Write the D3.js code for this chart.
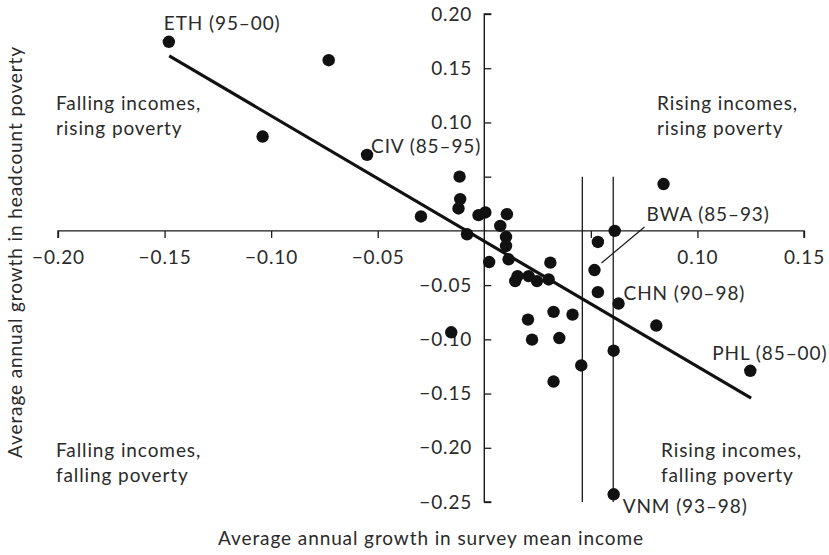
<!DOCTYPE html>
<html>
<head>
<meta charset="utf-8">
<script src="https://cdn.jsdelivr.net/npm/d3@7"></script>
<style>
  body { margin: 0; background: #fff; }
  svg text { font-family: Lato, "Open Sans", sans-serif; fill: #2a2a2a; letter-spacing: 0.9px; }
</style>
</head>
<body>
<svg id="chart" width="829" height="555"></svg>
<script>
// ---- data ----
const incomeGrowth = [-0.148, -0.073, -0.104, -0.055, -0.0116, -0.0113, -0.0121, -0.0297, -0.0081,
  -0.0027, 0.0005, 0.0106, 0.0075, 0.0102, 0.0102, 0.0023, 0.0114, 0.0156, 0.0145, 0.0208,
  0.0247, 0.0302, 0.031, 0.0325, 0.0414, 0.0205, 0.0224, 0.0352, 0.0455, 0.0325, -0.0155,
  0.0533, 0.0517, 0.0533, 0.0612, 0.063, 0.0607, 0.0841, 0.0807, 0.1248, 0.0607];
const povertyGrowth = [0.1744, 0.1574, 0.087, 0.0701, 0.050, 0.0293, 0.0207, 0.0133, -0.0031,
  0.0145, 0.017, 0.0154, 0.0046, -0.0056, -0.0139, -0.0287, -0.0262, -0.0417, -0.0463, -0.0417,
  -0.0463, -0.0448, -0.0293, -0.0747, -0.0772, -0.0818, -0.1003, -0.0988, -0.1241, -0.1389, -0.0935,
  -0.0102, -0.0361, -0.0565, 0.0, -0.067, -0.1105, 0.0432, -0.0873, -0.129, -0.2429];
const pointLabels = ["ETH (95–00)", "", "", "CIV (85–95)", "", "", "", "", "",
  "", "", "", "", "", "", "", "", "", "", "",
  "", "", "", "", "", "", "", "", "", "", "",
  "", "BWA (85–93)", "", "", "CHN (90–98)", "", "", "", "PHL (85–00)", "VNM (93–98)"];

const xTickValues = [-0.20, -0.15, -0.10, -0.05, 0.05, 0.10, 0.15];
const xTickLabels = ["−0.20", "−0.15", "−0.10", "−0.05", "", "0.10", "0.15"];
const yTickValues = [-0.25, -0.20, -0.15, -0.10, -0.05, 0.05, 0.10, 0.15, 0.20];
const yTickLabels = ["−0.25", "−0.20", "−0.15", "−0.10", "−0.05", "", "0.10", "0.15", "0.20"];

// regression line endpoints (income growth) and fit
const fitX = [-0.1478, 0.1252];
const fitIntercept = -0.0095;
const fitSlope = -1.156;

// reference vertical lines (income growth) spanning poverty growth range
const refLinesX = [0.046, 0.0605];
const refLinesY = [0.05, -0.25];

const quadrantLabels = [
  ["Falling incomes,", "rising poverty"],
  ["Rising incomes,", "rising poverty"],
  ["Falling incomes,", "falling poverty"],
  ["Rising incomes,", "falling poverty"]
];
const xTitle = "Average annual growth in survey mean income";
const yTitle = "Average annual growth in headcount poverty";

// ---- drawing ----
const svg = d3.select("#chart");
const FS = 19;
const ink = "#1a1a1a";

const x = d3.scaleLinear().domain([-0.20, 0.15]).range([58, 804]);
const y = d3.scaleLinear().domain([-0.25, 0.20]).range([502, 14]);

// x axis through y=0
const xAxis = d3.axisBottom(x).tickValues(xTickValues)
  .tickFormat((d, i) => xTickLabels[i]).tickSize(7).tickSizeOuter(0).tickPadding(13);
const gx = svg.append("g").attr("transform", `translate(0,${y(0)})`).call(xAxis);
gx.select(".domain").attr("stroke", ink).attr("stroke-width", 1.4)
  .attr("d", `M${x(-0.20)},7V0H${x(0.15)}V7`);
gx.selectAll(".tick line").attr("stroke", ink).attr("stroke-width", 1.3);
gx.selectAll(".tick text").attr("font-size", FS).attr("font-family", "Lato").attr("fill", "#2a2a2a");

// y axis through x=0
const yAxis = d3.axisLeft(y).tickValues(yTickValues)
  .tickFormat((d, i) => yTickLabels[i]).tickSize(-7).tickSizeOuter(0).tickPadding(12);
const gy = svg.append("g").attr("transform", `translate(${x(0)},0)`).call(yAxis);
gy.select(".domain").attr("stroke", ink).attr("stroke-width", 1.4)
  .attr("d", `M7,${y(0.20)}H0V${y(-0.25)}H7`);
gy.selectAll(".tick line").attr("stroke", ink).attr("stroke-width", 1.3);
gy.selectAll(".tick text").attr("font-size", FS).attr("font-family", "Lato").attr("fill", "#2a2a2a");

// reference vertical lines
svg.append("g").selectAll("line").data(refLinesX).join("line")
  .attr("x1", d => x(d)).attr("x2", d => x(d))
  .attr("y1", y(refLinesY[0])).attr("y2", y(refLinesY[1]))
  .attr("stroke", ink).attr("stroke-width", 1.3);

// regression line
svg.append("line")
  .attr("x1", x(fitX[0])).attr("y1", y(fitIntercept + fitSlope * fitX[0]))
  .attr("x2", x(fitX[1])).attr("y2", y(fitIntercept + fitSlope * fitX[1]))
  .attr("stroke", "#111").attr("stroke-width", 3.2);

// points
const pts = incomeGrowth.map((v, i) => ({ x: v, y: povertyGrowth[i], label: pointLabels[i] }));
svg.append("g").selectAll("circle").data(pts).join("circle")
  .attr("cx", d => x(d.x)).attr("cy", d => y(d.y)).attr("r", 6.2).attr("fill", "#111");

// point labels (offsets in pixels relative to the point)
const labelOffsets = {
  "ETH (95–00)": [-5, -12],
  "CIV (85–95)": [4, -2],
  "BWA (85–93)": [52, -49],
  "CHN (90–98)": [5, -4],
  "PHL (85–00)": [-38, -11],
  "VNM (93–98)": [9, 19]
};
const lab = svg.append("g");
pts.filter(d => d.label).forEach(d => {
  const o = labelOffsets[d.label];
  lab.append("text").attr("x", x(d.x) + o[0]).attr("y", y(d.y) + o[1])
    .attr("font-size", FS).text(d.label);
});
// BWA leader line
const bwa = pts.find(d => d.label === "BWA (85–93)");
svg.append("line")
  .attr("x1", x(bwa.x) + 7).attr("y1", y(bwa.y) - 7)
  .attr("x2", x(bwa.x) + 50).attr("y2", y(bwa.y) - 43)
  .attr("stroke", ink).attr("stroke-width", 1.2);

// quadrant labels
const quadPos = [[56, 110], [657, 110], [56, 457], [661, 457]];
quadrantLabels.forEach((lines, qi) => {
  const t = svg.append("text").attr("font-size", FS);
  lines.forEach((s, li) => {
    t.append("tspan").attr("x", quadPos[qi][0]).attr("y", quadPos[qi][1] + li * 25).text(s);
  });
});

// axis titles
svg.append("text").attr("x", 431).attr("y", 545).attr("text-anchor", "middle")
  .attr("font-size", FS).text(xTitle);
svg.append("text").attr("transform", `translate(22,252) rotate(-90)`)
  .attr("text-anchor", "middle").attr("font-size", FS).text(yTitle);
</script>
</body>
</html>
